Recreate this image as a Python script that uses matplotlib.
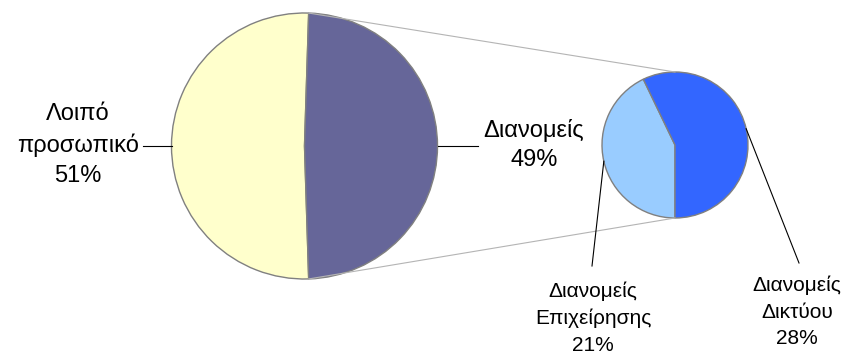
import numpy as np
import matplotlib
matplotlib.use("Agg")
import matplotlib.pyplot as plt

plt.rcParams['font.family'] = ['Liberation Sans', 'DejaVu Sans']

# main pie
main_labels = ['Λοιπό\nπροσωπικό', 'Διανομείς']
main_values = [51, 49]
main_colors = ['#FFFFCC', '#666699']

# breakdown of "Διανομείς"
sub_labels = ['Διανομείς\nΕπιχείρησης', 'Διανομείς\nΔικτύου']
sub_values = [21, 28]
sub_colors = ['#99CCFF', '#3366FF']

W, H = 848, 354
fig = plt.figure(figsize=(W / 100, H / 100), dpi=100)
ax = fig.add_axes([0, 0, 1, 1])

big_c, big_r = (304.5, H - 146), 133
small_c, small_r = (675, H - 145), 73

edge = dict(edgecolor='#808080', linewidth=1.0)

# start so that the exploded slice is centred on the right side
big_start = 360 * main_values[1] / sum(main_values) / 2
wedges_big, _ = ax.pie(main_values, colors=main_colors, startangle=big_start,
                       center=big_c, radius=big_r, wedgeprops=edge)

small_start = 270 - 360 * sub_values[0] / sum(sub_values)
wedges_small, _ = ax.pie(sub_values, colors=sub_colors, startangle=small_start,
                         center=small_c, radius=small_r, wedgeprops=edge)


def edge_point(c, r, ang):
    a = np.deg2rad(ang)
    return c[0] + r * np.cos(a), c[1] + r * np.sin(a)


# connector lines between the two pies
w = wedges_big[1]
p_top = edge_point(big_c, big_r, w.theta2)
p_bot = edge_point(big_c, big_r, w.theta1)
ax.plot([p_top[0], small_c[0]], [p_top[1], small_c[1] + small_r], color='#b4b4b4', lw=0.8)
ax.plot([p_bot[0], small_c[0]], [p_bot[1], small_c[1] - small_r], color='#b4b4b4', lw=0.8)

# labels of the big pie
pcts_big = [f'{v}%' for v in main_values]
mid = (wedges_big[0].theta1 + wedges_big[0].theta2) / 2
p = edge_point(big_c, big_r, mid)
ax.plot([p[0], 143], [p[1], p[1]], color='black', lw=0.8)
ax.text(78, H - 145, main_labels[0] + '\n' + pcts_big[0], ha='center', va='center',
        fontsize=17, linespacing=1.47)

mid = (wedges_big[1].theta1 + wedges_big[1].theta2) / 2
p = edge_point(big_c, big_r, mid)
ax.plot([p[0], 478], [p[1], p[1]], color='black', lw=0.8)
ax.text(534, H - 145, main_labels[1] + '\n' + pcts_big[1], ha='center', va='center',
        fontsize=17, linespacing=1.47)

# labels of the small pie
pcts_small = [f'{v}%' for v in sub_values]
label_pos = [(593, H - 318), (797, H - 312)]
leader_end = [(592, H - 266), (799, H - 263)]
for wd, lab, pct, pos, le in zip(wedges_small, sub_labels, pcts_small, label_pos, leader_end):
    mid = (wd.theta1 + wd.theta2) / 2
    p = edge_point(small_c, small_r, mid)
    ax.plot([p[0], le[0]], [p[1], le[1]], color='black', lw=0.8)
    ax.text(pos[0], pos[1], lab + '\n' + pct, ha='center', va='center',
            fontsize=15, linespacing=1.5)

ax.set_xlim(0, W)
ax.set_ylim(0, H)
ax.set_aspect('auto')
ax.axis('off')

fig.savefig('out.png', dpi=100)
